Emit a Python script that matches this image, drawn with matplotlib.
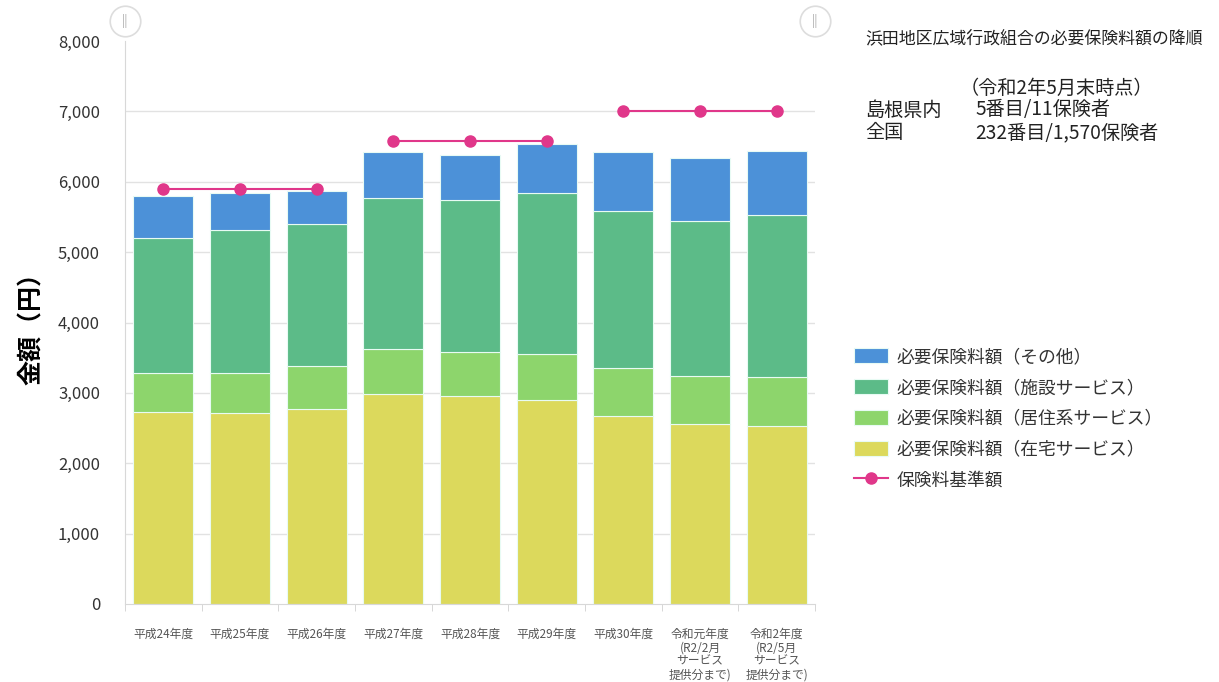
import matplotlib
matplotlib.use('Agg')
import matplotlib.pyplot as plt
import numpy as np

plt.rcParams['font.family'] = ['Noto Sans CJK JP', 'DejaVu Sans']

# 年度ごとの必要保険料額（円）
years = ['平成24年度', '平成25年度', '平成26年度', '平成27年度', '平成28年度',
         '平成29年度', '平成30年度',
         '令和元年度\n(R2/2月\nサービス\n提供分まで)',
         '令和2年度\n(R2/5月\nサービス\n提供分まで)']
zaitaku = [2725, 2720, 2772, 2985, 2957, 2900, 2677, 2559, 2535]
kyojuu = [563, 568, 607, 635, 625, 654, 678, 682, 687]
shisetsu = [1915, 2028, 2022, 2147, 2156, 2288, 2231, 2203, 2307]
sonota = [597, 530, 470, 654, 640, 692, 835, 891, 910]
# 保険料基準額（3年ごとの計画期間）
kijun = [5900, 5900, 5900, 6580, 6580, 6580, 7000, 7000, 7000]
periods = [(0, 3), (3, 6), (6, 9)]

series = [
    ('必要保険料額（在宅サービス）', zaitaku, '#dcd95c'),
    ('必要保険料額（居住系サービス）', kyojuu, '#8dd56c'),
    ('必要保険料額（施設サービス）', shisetsu, '#5cbb88'),
    ('必要保険料額（その他）', sonota, '#4c91d8'),
]

fig = plt.figure(figsize=(12.19, 6.82), dpi=100)
ax = fig.add_axes([125 / 1219, 78 / 682, 690 / 1219, 563 / 682])

x = np.arange(len(years))
bottom = np.zeros(len(years))
bars = {}
for name, vals, col in series:
    bars[name] = ax.bar(x, vals, width=0.78, bottom=bottom, color=col,
                        edgecolor='#e8fbf4', linewidth=0.8, zorder=2)
    bottom += np.array(vals)

line = None
for s, e in periods:
    line, = ax.plot(x[s:e], kijun[s:e], color='#e0378a', lw=1.5,
                    marker='o', ms=8, zorder=3)

ax.set_xlim(-0.5, len(years) - 0.5)
ax.set_ylim(0, 8000)
ax.set_yticks(range(0, 8001, 1000))
ax.set_yticklabels([f'{v:,}' for v in range(0, 8001, 1000)])
for v in range(1000, 8000, 1000):
    ax.axhline(v, color='#e2e2e2', lw=1, zorder=1)

ax.set_xticks(x)
ax.set_xticklabels(years, fontsize=8.5, color='#555555', linespacing=1.05)
ax.set_xticks(np.arange(-0.5, len(years), 1), minor=True)
ax.tick_params(axis='x', which='major', length=0, pad=17)
ax.tick_params(axis='x', which='minor', length=5, color='#d0d0d0')
ax.tick_params(axis='y', length=0, labelsize=12, labelcolor='#333333', pad=18)

for sp in ['top', 'right']:
    ax.spines[sp].set_visible(False)
ax.spines['left'].set_color('#d8d8d8')
ax.spines['bottom'].set_color('#d8d8d8')

ax.set_ylabel('金額（円）', fontsize=18, fontweight='bold', labelpad=10)

# 範囲スライダーのつまみ
for hx in [0.0, 1.0]:
    ax.plot(hx, 1.035, 'o', transform=ax.transAxes, ms=22, mfc='white',
            mec='#dddddd', mew=1.2, clip_on=False, zorder=5)
    ax.text(hx, 1.035, '||', transform=ax.transAxes, ha='center', va='center',
            fontsize=9, color='#aaaaaa', zorder=6)

# 右側の注記
fig.text(865 / 1219, 1 - 38 / 682, '浜田地区広域行政組合の必要保険料額の降順',
         fontsize=12.2, color='#222222', va='center')
fig.text(960 / 1219, 1 - 88 / 682, '（令和2年5月末時点）',
         fontsize=13.8, color='#222222', va='center')
fig.text(865 / 1219, 1 - 110 / 682, '島根県内', fontsize=13.8, color='#222222', va='center')
fig.text(975 / 1219, 1 - 110 / 682, '5番目/11保険者', fontsize=13.8, color='#222222', va='center')
fig.text(865 / 1219, 1 - 133 / 682, '全国', fontsize=13.8, color='#222222', va='center')
fig.text(975 / 1219, 1 - 133 / 682, '232番目/1,570保険者', fontsize=13.8, color='#222222', va='center')

handles = [bars[s[0]] for s in series[::-1]] + [line]
labels = [s[0] for s in series[::-1]] + ['保険料基準額']
fig.legend(handles, labels, loc='upper left', bbox_to_anchor=(838 / 1219, 1 - 332 / 682),
           frameon=False, fontsize=12.8, labelspacing=0.72, handlelength=1.9,
           handleheight=0.9, handletextpad=0.5, labelcolor='#333333')

fig.savefig('out.png', dpi=100, facecolor='white')
